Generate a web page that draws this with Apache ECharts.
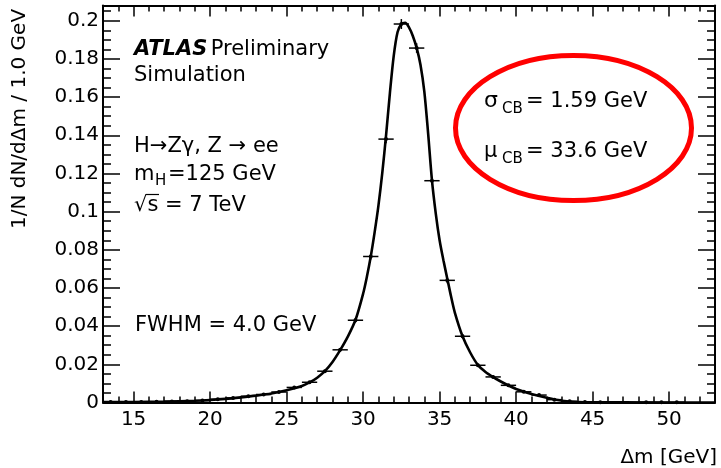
<!DOCTYPE html>
<html>
<head>
<meta charset="utf-8">
<script src="https://cdn.jsdelivr.net/npm/echarts@6/dist/echarts.min.js"></script>
<style>html,body{margin:0;padding:0;background:#fff;}#c{width:721px;height:468px;}</style>
</head>
<body>
<div id="c"></div>
<script>
// ---- data ----
const binCenters = [13.5,14.5,15.5,16.5,17.5,18.5,19.5,20.5,21.5,22.5,23.5,24.5,25.5,26.5,27.5,28.5,29.5,30.5,31.5,32.5,33.5,34.5,35.5,36.5,37.5,38.5,39.5,40.5,41.5,42.5,43.5,44.5,45.5,46.5,47.5,48.5,49.5,50.5,51.5,52.5];
const binValues = [0.0002,0.0002,0.0003,0.0004,0.0005,0.0007,0.0010,0.0017,0.0024,0.0033,0.0042,0.0055,0.0079,0.0106,0.0164,0.0276,0.0431,0.0765,0.1380,0.1983,0.1857,0.1162,0.0640,0.0347,0.0195,0.0134,0.0090,0.0056,0.0039,0.0015,0.0006,0.0002,0.0001,null,null,0.0001,0.0001,0.0001,null,null];
const binErrors = [0.0001,0.0001,0.0001,0.0001,0.0001,0.0002,0.0002,0.0003,0.0003,0.0004,0.0004,0.0005,0.0005,0.0006,0.0008,0.0010,0.0012,0.0016,0.0022,0.0026,0.0025,0.0020,0.0015,0.0011,0.0008,0.0007,0.0006,0.0005,0.0004,0.0003,0.0002,0.0001,0.0001,0,0,0.0001,0.0001,0.0001,0,0];
const binWidth = 1.0;
const curveX = [13,15,17,19,20,21,22,23,24,25,26,26.5,27,27.5,28,28.5,29,29.5,30,30.25,30.5,30.75,31,31.25,31.5,31.75,32,32.25,32.5,32.75,33,33.25,33.5,33.75,34,34.25,34.5,34.75,35,35.25,35.5,35.75,36,36.5,37,37.5,38,38.5,39,39.5,40,41,42,43,44,45,47,53];
const curveY = [0.0002,0.0003,0.0005,0.0009,0.0013,0.0019,0.0027,0.0036,0.0047,0.0064,0.0087,0.0105,0.0130,0.0164,0.0212,0.0274,0.0345,0.0432,0.0570,0.0660,0.0765,0.0890,0.1030,0.1200,0.1400,0.1620,0.1815,0.1940,0.1983,0.1990,0.1965,0.1920,0.1858,0.1770,0.1630,0.1410,0.1165,0.0990,0.0850,0.0745,0.0650,0.0555,0.0470,0.0347,0.0262,0.0197,0.0160,0.0133,0.0110,0.0089,0.0071,0.0045,0.0025,0.0009,0.0002,0.0001,0.00005,0];
const xMajorTicks = [15,20,25,30,35,40,45,50];
const xTickLabels = ['15','20','25','30','35','40','45','50'];
const yMajorTicks = [0,0.02,0.04,0.06,0.08,0.1,0.12,0.14,0.16,0.18,0.2];
const yTickLabels = ['0','0.02','0.04','0.06','0.08','0.1','0.12','0.14','0.16','0.18','0.2'];
const xRange = [13, 53];
const yRange = [0, 0.208];
const xMinorStep = 1;
const yMinorStep = 0.005;

// ---- chart ----
const FONT = 'DejaVu Sans';
const chart = echarts.init(document.getElementById('c'), null, {renderer: 'canvas'});

function fmtX(v){ const i = xMajorTicks.findIndex(t => Math.abs(t - v) < 1e-9); return i >= 0 ? xTickLabels[i] : ''; }
function fmtY(v){ const i = yMajorTicks.findIndex(t => Math.abs(t - v) < 1e-9); return i >= 0 ? yTickLabels[i] : ''; }

const lineStyleAxis = {color: '#000', width: 2};
function xAx(pos, major, showLine, showLabel){
  return {
    type: 'value', position: pos, min: xRange[0], max: xRange[1],
    interval: major ? undefined : xMinorStep,
    axisLine: {show: showLine, onZero: false, lineStyle: lineStyleAxis},
    axisTick: major ? {show: true, inside: true, length: 11, customValues: xMajorTicks, lineStyle: {color: '#000', width: 1.5}}
                    : {show: true, inside: true, length: 6, lineStyle: {color: '#000', width: 1.5}},
    axisLabel: showLabel ? {show: true, customValues: xMajorTicks, formatter: fmtX, color: '#000', fontFamily: FONT, fontSize: 20, margin: 7} : {show: false},
    splitLine: {show: false}
  };
}
function yAx(pos, major, showLine, showLabel){
  return {
    type: 'value', position: pos, min: yRange[0], max: yRange[1],
    interval: major ? undefined : yMinorStep,
    axisLine: {show: showLine, onZero: false, lineStyle: lineStyleAxis},
    axisTick: major ? {show: true, inside: true, length: 17, customValues: yMajorTicks, lineStyle: {color: '#000', width: 1.5}}
                    : {show: true, inside: true, length: 8, lineStyle: {color: '#000', width: 1.5}},
    axisLabel: showLabel ? {show: true, customValues: yMajorTicks, formatter: fmtY, color: '#000', fontFamily: FONT, fontSize: 20, margin: 4} : {show: false},
    splitLine: {show: false}
  };
}

const pts = binCenters.map((x, i) => [x, binValues[i], binErrors[i]]).filter(d => d[1] !== null);
const curve = curveX.map((x, i) => [x, curveY[i]]);

function txt(x, y, text, size, extra){
  return {type: 'text', x: x, y: y, style: Object.assign({text: text, fontFamily: FONT, fontSize: size, fill: '#000', verticalAlign: 'middle'}, extra || {})};
}

const option = {
  animation: false,
  backgroundColor: '#fff',
  grid: {left: 103, right: 6, top: 5.5, bottom: 65.5, containLabel: false},
  xAxis: [xAx('bottom', true, true, true), xAx('bottom', false, false, false), xAx('top', true, true, false), xAx('top', false, false, false)],
  yAxis: [yAx('left', true, true, true), yAx('left', false, false, false), yAx('right', true, true, false), yAx('right', false, false, false)],
  series: [
    {
      type: 'custom', xAxisIndex: 0, yAxisIndex: 0, data: pts, z: 3,
      renderItem: function(params, api){
        const x = api.value(0), y = api.value(1), e = api.value(2);
        const pL = api.coord([x - binWidth/2, y]);
        const pR = api.coord([x + binWidth/2, y]);
        const pT = api.coord([x, y + e]);
        const pB = api.coord([x, y - e]);
        const c = api.coord([x, y]);
        return {type: 'group', children: [
          {type: 'line', shape: {x1: pL[0], y1: pL[1], x2: pR[0], y2: pR[1]}, style: {stroke: '#000', lineWidth: 1.5}},
          {type: 'line', shape: {x1: pT[0], y1: pT[1], x2: pB[0], y2: pB[1]}, style: {stroke: '#000', lineWidth: 1.5}},
          {type: 'circle', shape: {cx: c[0], cy: c[1], r: 2}, style: {fill: '#000'}}
        ]};
      }
    },
    {
      type: 'line', xAxisIndex: 0, yAxisIndex: 0, data: curve, z: 4,
      showSymbol: false, symbol: 'none', smooth: 0.3,
      lineStyle: {color: '#000', width: 2.6}
    }
  ],
  graphic: [
    {type: 'text', x: 20, y: 119, rotation: Math.PI/2, style: {text: '1/N dN/dΔm / 1.0 GeV', fontFamily: FONT, fontSize: 20, fill: '#000', align: 'center', verticalAlign: 'middle'}},
    txt(717, 458, 'Δm [GeV]', 20, {align: 'right'}),
    {type: 'text', x: 134, y: 49.5, style: {text: '{a|ATLAS} {p|Preliminary}', verticalAlign: 'middle', rich: {
      a: {fontFamily: FONT, fontSize: 21, fontWeight: 'bold', fontStyle: 'italic', fill: '#000'},
      p: {fontFamily: FONT, fontSize: 21, fill: '#000'}}}},
    txt(134, 75.5, 'Simulation', 21),
    txt(134, 146.5, 'H→Zγ, Z → ee', 21),
    txt(134, 174.5, 'm', 21),
    txt(155, 181, 'H', 15),
    txt(168, 174.5, '=125 GeV', 21),
    txt(134, 205.5, '√s = 7 TeV', 21),
    {type: 'line', shape: {x1: 146, y1: 194.5, x2: 159, y2: 194.5}, style: {stroke: '#000', lineWidth: 1.2}},
    txt(135, 325.5, 'FWHM = 4.0 GeV', 21),
    {type: 'ellipse', shape: {cx: 573.5, cy: 128, rx: 118, ry: 72.5}, style: {fill: 'none', stroke: '#f00', lineWidth: 5}},
    txt(484, 101.5, 'σ', 22),
    txt(502, 109, 'CB', 15),
    txt(526, 101.5, '= 1.59 GeV', 21),
    txt(484, 151.5, 'μ', 21),
    txt(502, 159, 'CB', 15),
    txt(526, 151.5, '= 33.6 GeV', 21)
  ]
};
chart.setOption(option);
</script>
</body>
</html>
